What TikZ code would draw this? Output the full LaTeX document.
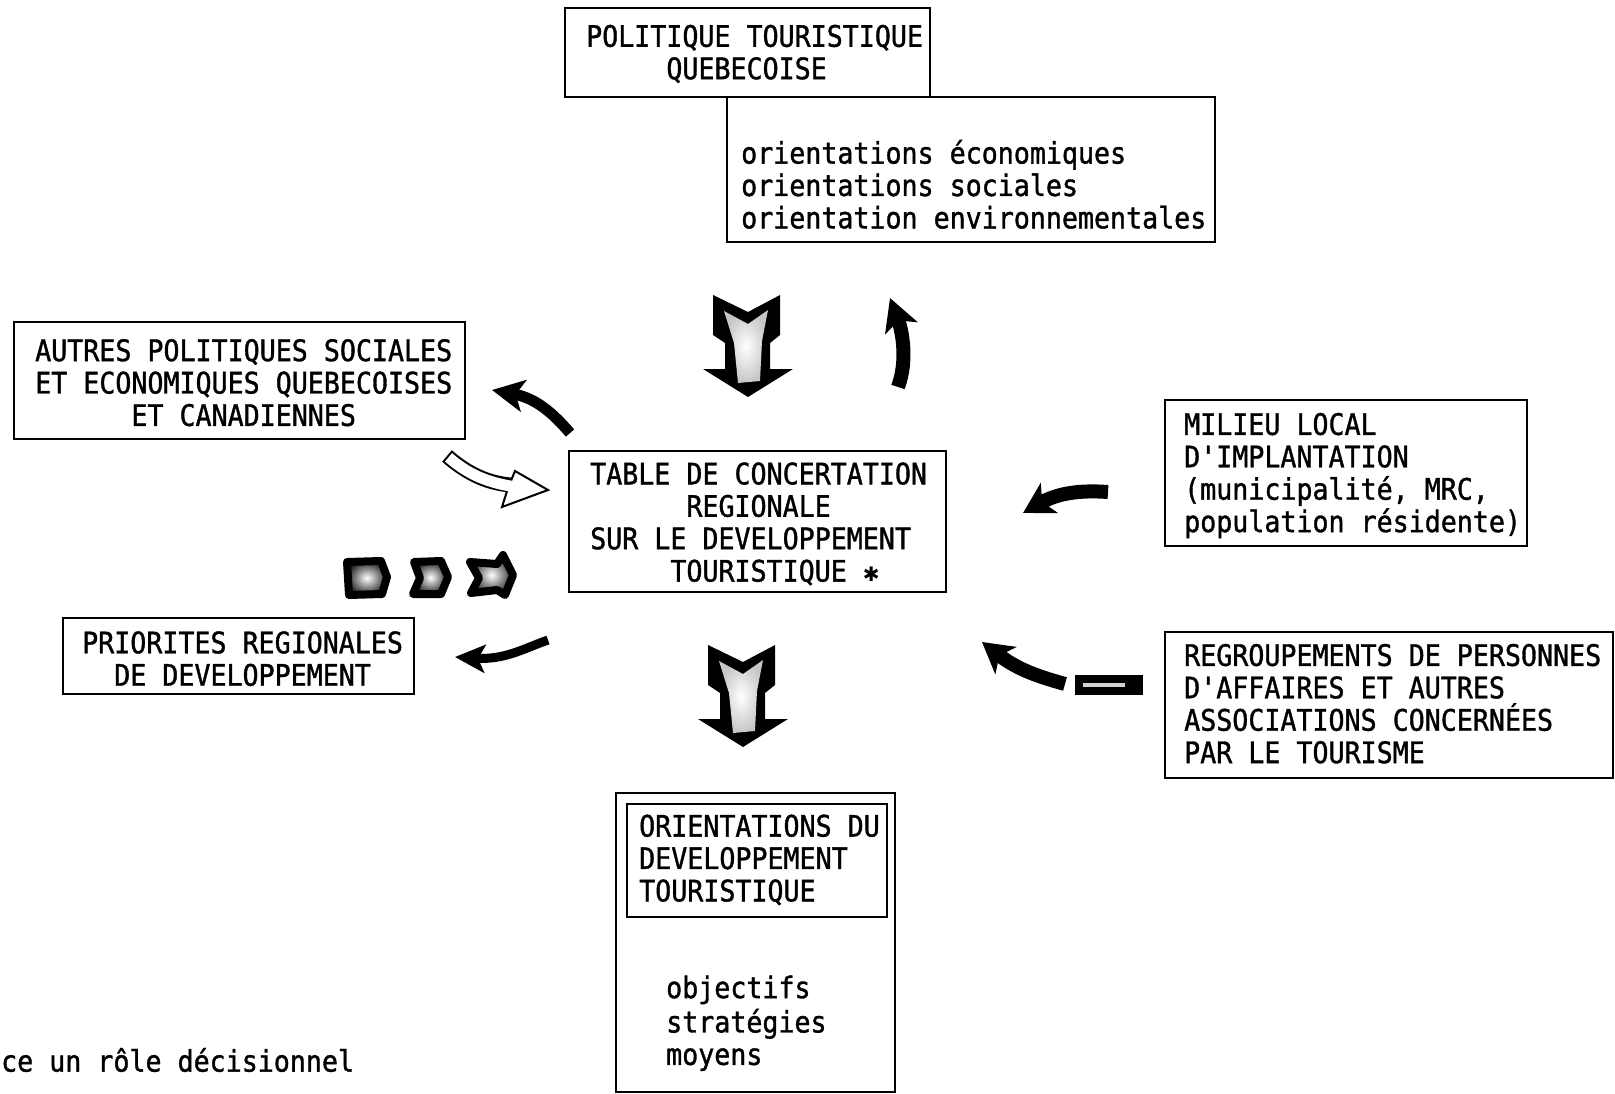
\documentclass[tikz,border=0pt]{standalone}
\usepackage{fontspec}
\newfontfamily\typew[FakeStretch=0.9, FakeBold=1.2]{DejaVu Sans Mono}
\newfontfamily\symfont{DejaVu Sans}
\usetikzlibrary{arrows.meta}
\begin{document}
\begin{tikzpicture}[x=1pt,y=-1pt,
  box/.style={draw=black, line width=2.4pt, inner sep=0pt, outer sep=0pt},
  txt/.style={font=\typew\fontsize{29.6}{32.4}\selectfont, align=left, anchor=west, inner sep=0pt},
  curvarrow/.style={draw=black, line cap=butt},
  smallchev/.style={draw=black, line width=8pt, line join=round, inner color=white, outer color=black!85},
  bigdown/.pic={
    \fill[black] (-35,0) -- (0,17) -- (32,0) -- (32,40) -- (22,48) -- (22,74) -- (45,74) -- (0,102) -- (-45,74) -- (-23,74) -- (-23,48) -- (-35,40) -- cycle;
    \shade[inner color=white, outer color=gray!45] (-24,16) -- (0,29) -- (20,15) -- (14,46) -- (12,86) -- (-10,88) -- (-14,48) -- cycle;
  }]
\useasboundingbox (0,0) rectangle (1615,1094);

% boxes
\node[box, minimum width=365pt, minimum height=89pt] (pol) at (747.5,52.5) {};
\node[box, minimum width=488pt, minimum height=145pt] (ori) at (971,169.5) {};
\node[box, minimum width=451pt, minimum height=117pt] (aut) at (239.5,380.5) {};
\node[box, minimum width=377pt, minimum height=141pt] (tab) at (757.5,521.5) {};
\node[box, minimum width=362pt, minimum height=146pt] (mil) at (1346,473) {};
\node[box, minimum width=351pt, minimum height=76pt] (pri) at (238.5,656) {};
\node[box, minimum width=448pt, minimum height=146pt] (reg) at (1389,705) {};
\node[box, minimum width=279pt, minimum height=299pt] (out) at (755.5,942.5) {};
\node[box, minimum width=260pt, minimum height=113pt] (inn) at (757,860.5) {};

% texts
\node[txt] (polT) at (586,56.5) {\strut POLITIQUE TOURISTIQUE\\\phantom{XXXXX}QUEBECOISE\strut};
\node[txt] (oriT) at (741,189) {\strut orientations économiques\\orientations sociales\\orientation environnementales\strut};
\node[txt] (autT) at (35,387) {\strut AUTRES POLITIQUES SOCIALES\\ET ECONOMIQUES QUEBECOISES\\\phantom{XXXXXX}ET CANADIENNES\strut};
\node[txt] (tabT) at (590,526.5) {\strut TABLE DE CONCERTATION\\\phantom{XXXXXX}REGIONALE\\SUR LE DEVELOPPEMENT\\\phantom{XXXXX}TOURISTIQUE {\symfont\fontsize{20}{20}\selectfont ✱}\strut};
\node[txt] (milT) at (1184,477) {\strut MILIEU LOCAL\\D'IMPLANTATION\\(municipalité, MRC,\\population résidente)\strut};
\node[txt] (priT) at (82,663) {\strut PRIORITES REGIONALES\\\phantom{XX}DE DEVELOPPEMENT\strut};
\node[txt] (regT) at (1184,708) {\strut REGROUPEMENTS DE PERSONNES\\D'AFFAIRES ET AUTRES\\ASSOCIATIONS CONCERNÉES\\PAR LE TOURISME\strut};
\node[txt] (innT) at (639,862.5) {\strut ORIENTATIONS DU\\DEVELOPPEMENT\\TOURISTIQUE\strut};
\node[txt] (outT) at (666,1025) {\strut objectifs\\stratégies\\moyens\strut};
\node[txt] (note) at (1,1060) {ce un rôle décisionnel};

% big block arrows
\pic (bdA) at (748,295) {bigdown};
\pic (bdB) at (743,645) {bigdown};

% named endpoints
\coordinate (upS) at (898,387);
\coordinate (upE) at (890,298);
\coordinate (auS) at (570,433);
\coordinate (auE) at (492,390);
\coordinate (prS) at (548,640);
\coordinate (prE) at (455,657);
\coordinate (miS) at (1108,492);
\coordinate (miE) at (1023,513);
\coordinate (reS) at (1065,684);
\coordinate (reE) at (982,642);
\coordinate (wS) at (447,456);
\coordinate (wE) at (510,485);

% curved black arrows
\draw[curvarrow, line width=14pt, -{Stealth[length=32pt, width=34pt, inset=8pt]}] (upS) .. controls (908,360) and (902,330) .. (upE);
\draw[curvarrow, line width=11pt, -{Stealth[length=32pt, width=32pt, inset=8pt]}] (auS) .. controls (552,412) and (535,398) .. (auE);
\draw[curvarrow, line width=9pt, -{Stealth[length=30pt, width=28pt, inset=7pt]}] (prS) .. controls (525,648) and (505,660) .. (prE);
\draw[curvarrow, line width=14pt, -{Stealth[length=30pt, width=34pt, inset=8pt]}] (miS) .. controls (1080,490) and (1058,493) .. (miE);
\draw[curvarrow, line width=14pt, -{Stealth[length=30pt, width=34pt, inset=8pt]}] (reS) .. controls (1040,677) and (1018,670) .. (reE);
\fill[black] (1075,675) rectangle (1143,695);
\fill[gray!35] (1083,683) rectangle (1125,687);

% open white arrow
\draw[line width=15pt] (wS) .. controls (470,476) and (490,483) .. (wE);
\filldraw[fill=white, draw=black, line width=2pt, line join=miter] (515,471) -- (548,490) -- (502,507) -- (508,488) -- cycle;
\draw[line width=11pt, white, shorten <=2pt] (wS) .. controls (470,476) and (490,483) .. (516,487);

% small chevrons
\shadedraw[smallchev] (347,562) -- (381,561) -- (387,577) -- (382,594) -- (349,595) -- cycle;
\shadedraw[smallchev] (414,562) -- (441,561) -- (448,577) -- (441,594) -- (413,594) -- (420,578) -- cycle;
\shadedraw[smallchev] (470,562) -- (497,564) -- (503,555) -- (513,575) -- (505,595) -- (497,590) -- (471,593) -- (479,578) -- cycle;
\end{tikzpicture}
\end{document}
